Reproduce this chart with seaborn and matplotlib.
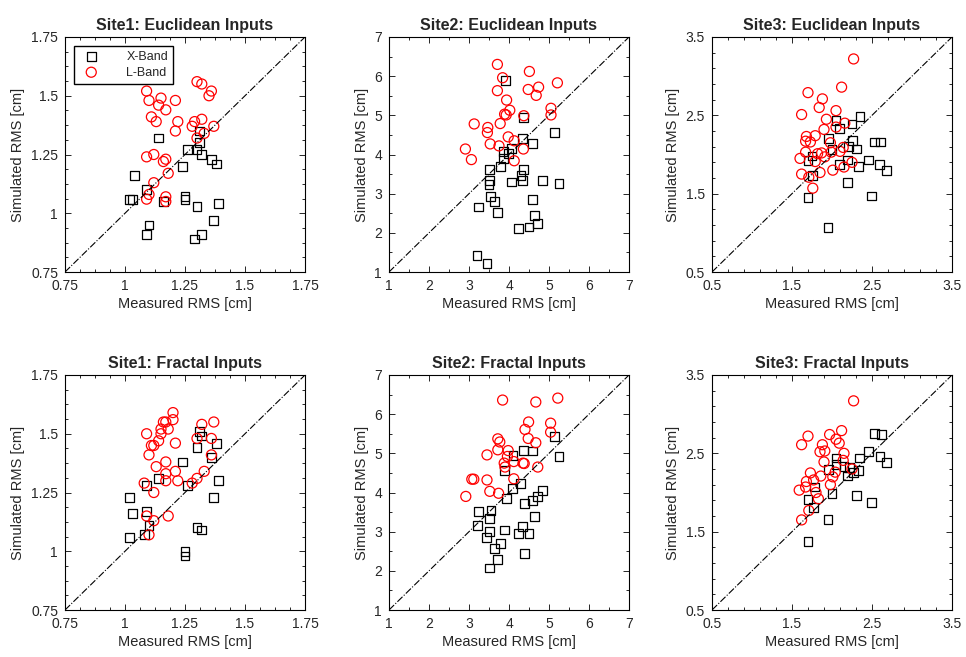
import matplotlib
matplotlib.use("Agg")
import matplotlib.pyplot as plt
from matplotlib.ticker import AutoMinorLocator, FormatStrFormatter
import seaborn as sns
import pandas as pd

# ---- data (measured, simulated) ----
titles = ["Site1: Euclidean Inputs", "Site2: Euclidean Inputs", "Site3: Euclidean Inputs",
          "Site1: Fractal Inputs", "Site2: Fractal Inputs", "Site3: Fractal Inputs"]
limits = [(0.75, 1.75), (1, 7), (0.5, 3.5)]
tick_vals = [[0.75, 1, 1.25, 1.5, 1.75], [1, 2, 3, 4, 5, 6, 7], [0.5, 1.5, 2.5, 3.5]]
minor_div = [4, 2, 5]

s1_euc_x = [(1.14,1.32),(1.31,1.35),(1.31,1.30),(1.26,1.27),(1.30,1.27),(1.32,1.25),(1.36,1.23),(1.38,1.21),
            (1.24,1.20),(1.04,1.16),(1.09,1.10),(1.02,1.06),(1.03,1.06),(1.16,1.05),(1.25,1.06),(1.25,1.07),
            (1.30,1.03),(1.39,1.04),(1.37,0.97),(1.10,0.95),(1.09,0.91),(1.29,0.89),(1.32,0.91)]
s1_euc_l = [(1.30,1.56),(1.32,1.55),(1.36,1.52),(1.35,1.50),(1.09,1.52),(1.10,1.48),(1.15,1.49),(1.14,1.46),
            (1.21,1.48),(1.17,1.44),(1.11,1.41),(1.13,1.39),(1.22,1.39),(1.29,1.39),(1.28,1.37),(1.32,1.40),
            (1.37,1.37),(1.21,1.35),(1.33,1.34),(1.30,1.32),(1.09,1.24),(1.12,1.25),(1.16,1.22),(1.17,1.23),
            (1.18,1.17),(1.12,1.13),(1.10,1.08),(1.09,1.06),(1.17,1.07),(1.17,1.05)]

s2_euc_x = [(3.92,5.88),(4.37,4.94),(5.14,4.56),(4.34,4.40),(4.58,4.28),(4.06,4.16),(3.87,4.07),(3.98,4.02),
            (3.86,3.89),(3.79,3.70),(3.52,3.62),(4.37,3.61),(4.30,3.46),(4.34,3.34),(3.52,3.33),(3.50,3.24),
            (4.07,3.30),(4.83,3.33),(5.25,3.25),(3.54,2.92),(3.64,2.79),(3.23,2.66),(3.71,2.52),(4.58,2.85),
            (4.63,2.44),(4.71,2.23),(4.50,2.15),(4.24,2.12),(3.20,1.42),(3.45,1.21)]
s2_euc_l = [(3.71,6.30),(4.51,6.12),(3.84,5.96),(4.74,5.72),(4.48,5.66),(5.21,5.83),(3.71,5.63),(4.68,5.51),
            (3.94,5.39),(4.02,5.13),(3.89,5.03),(3.93,5.01),(4.37,4.99),(5.05,5.18),(5.05,5.01),(3.13,4.78),
            (3.47,4.69),(3.78,4.79),(3.46,4.56),(3.98,4.45),(4.13,4.35),(3.53,4.27),(3.75,4.22),(4.36,4.14),
            (2.91,4.14),(3.06,3.87),(4.13,3.84)]

s3_euc_x = [(2.35,2.49),(2.25,2.39),(2.05,2.43),(2.09,2.33),(1.96,2.20),(2.26,2.18),(2.53,2.16),(2.61,2.16),
            (2.21,2.10),(2.31,2.07),(2.00,2.06),(1.70,1.92),(1.75,1.98),(2.19,1.93),(2.09,1.87),(2.33,1.85),
            (2.46,1.93),(2.59,1.87),(2.68,1.80),(1.76,1.73),(2.19,1.64),(1.70,1.45),(2.49,1.47),(1.95,1.07)]
s3_euc_l = [(2.27,3.22),(2.12,2.86),(1.70,2.79),(1.88,2.71),(1.84,2.60),(1.62,2.51),(2.05,2.56),(1.93,2.45),
            (2.05,2.35),(2.16,2.40),(1.90,2.32),(1.68,2.23),(1.79,2.24),(1.67,2.17),(1.73,2.16),(1.98,2.15),
            (2.14,2.09),(2.10,2.04),(1.67,2.03),(1.82,2.01),(1.87,2.02),(1.99,2.03),(1.91,1.97),(1.60,1.95),
            (1.79,1.91),(2.25,1.90),(2.01,1.80),(2.15,1.84),(1.85,1.77),(1.62,1.75),(1.71,1.71),(1.76,1.57)]

s1_frac_x = [(1.31,1.51),(1.32,1.49),(1.38,1.46),(1.30,1.44),(1.36,1.40),(1.24,1.38),(1.14,1.31),(1.39,1.30),
             (1.09,1.28),(1.26,1.28),(1.02,1.23),(1.37,1.23),(1.03,1.16),(1.09,1.17),(1.10,1.11),(1.08,1.07),
             (1.02,1.06),(1.30,1.10),(1.32,1.09),(1.25,1.00),(1.25,0.98)]
s1_frac_l = [(1.20,1.59),(1.20,1.56),(1.16,1.55),(1.17,1.55),(1.15,1.52),(1.18,1.52),(1.37,1.55),(1.32,1.54),
             (1.09,1.50),(1.15,1.50),(1.14,1.47),(1.11,1.45),(1.12,1.45),(1.21,1.46),(1.30,1.48),(1.36,1.48),
             (1.36,1.41),(1.10,1.41),(1.17,1.38),(1.13,1.36),(1.21,1.34),(1.17,1.33),(1.17,1.30),(1.22,1.30),
             (1.33,1.34),(1.30,1.31),(1.28,1.29),(1.08,1.29),(1.12,1.25),(1.09,1.15),(1.12,1.13),(1.18,1.15),
             (1.10,1.07)]

s2_frac_x = [(5.14,5.42),(5.25,4.91),(4.36,5.07),(4.59,5.06),(4.10,4.95),(3.88,4.57),(4.29,4.22),(4.08,4.11),
             (3.93,3.84),(4.83,4.06),(4.72,3.90),(4.59,3.79),(4.38,3.72),(3.24,3.51),(3.55,3.54),(3.52,3.33),
             (3.22,3.15),(4.64,3.39),(4.34,3.13),(3.52,3.01),(3.88,3.04),(3.44,2.85),(4.24,2.95),(4.50,2.95),
             (3.79,2.69),(3.63,2.58),(4.38,2.44),(3.72,2.28),(3.51,2.07)]
s2_frac_l = [(3.84,6.36),(4.67,6.31),(5.22,6.41),(4.49,5.80),(5.04,5.77),(4.40,5.61),(5.04,5.54),(4.48,5.38),
             (4.67,5.27),(3.72,5.37),(3.77,5.29),(3.72,5.09),(3.98,5.07),(3.45,4.96),(3.96,4.92),(4.12,4.79),
             (4.35,4.75),(4.38,4.74),(3.88,4.75),(3.90,4.65),(4.72,4.65),(3.07,4.34),(3.12,4.34),(3.45,4.32),
             (4.12,4.35),(3.52,4.03),(3.74,3.98),(2.92,3.90)]

s3_frac_x = [(2.53,2.75),(2.62,2.74),(2.46,2.52),(2.60,2.46),(2.68,2.38),(2.34,2.44),(2.05,2.44),(2.05,2.36),
             (2.15,2.33),(1.96,2.29),(2.22,2.32),(2.33,2.28),(2.27,2.26),(2.19,2.21),(1.78,2.07),(2.00,1.99),
             (2.31,1.96),(1.70,1.91),(1.77,1.81),(2.49,1.87),(1.95,1.66),(1.70,1.37)]
s3_frac_l = [(2.27,3.17),(2.12,2.79),(1.97,2.74),(1.70,2.72),(2.05,2.68),(2.09,2.63),(1.62,2.61),(1.88,2.61),
             (1.85,2.52),(1.91,2.53),(2.15,2.50),(2.14,2.41),(1.90,2.39),(2.25,2.30),(2.04,2.26),(1.73,2.25),
             (1.86,2.21),(2.01,2.20),(1.77,2.16),(1.68,2.14),(1.67,2.07),(1.98,2.10),(1.80,2.00),(1.59,2.03),
             (1.83,1.92),(1.71,1.77),(1.62,1.65)]

panels = [(s1_euc_x, s1_euc_l), (s2_euc_x, s2_euc_l), (s3_euc_x, s3_euc_l),
          (s1_frac_x, s1_frac_l), (s2_frac_x, s2_frac_l), (s3_frac_x, s3_frac_l)]

sns.set_style("ticks")
plt.rcParams["font.family"] = ["Liberation Sans", "DejaVu Sans"]

fig = plt.figure(figsize=(9.66, 6.57), dpi=100)
lefts = [65 / 966, 389 / 966, 712 / 966]
bottoms = [1 - 272 / 657, 1 - 610 / 657]
w, h = 240 / 966, 235 / 657

for i, (xb, lb) in enumerate(panels):
    col, row = i % 3, i // 3
    ax = fig.add_axes([lefts[col], bottoms[row], w, h])
    lo, hi = limits[col]
    dx = pd.DataFrame(xb, columns=["meas", "sim"])
    dl = pd.DataFrame(lb, columns=["meas", "sim"])
    ax.plot([lo, hi], [lo, hi], color="black", linestyle="-.", linewidth=0.8)
    sns.scatterplot(data=dx, x="meas", y="sim", marker="s", s=40, facecolor="none",
                    edgecolor="black", linewidth=0.9, ax=ax, label="X-Band", legend=False)
    sns.scatterplot(data=dl, x="meas", y="sim", marker="o", s=52, facecolor="none",
                    edgecolor="red", linewidth=0.9, ax=ax, label="L-Band", legend=False)
    ax.set_xlim(lo, hi)
    ax.set_ylim(lo, hi)
    ax.set_xticks(tick_vals[col])
    ax.set_yticks(tick_vals[col])
    for axis in (ax.xaxis, ax.yaxis):
        axis.set_minor_locator(AutoMinorLocator(minor_div[col]))
        axis.set_major_formatter(FormatStrFormatter("%g"))
    ax.tick_params(which="both", direction="in", top=True, right=True, labelsize=10, width=0.7)
    ax.tick_params(which="major", length=4, pad=5)
    ax.tick_params(which="minor", length=2)
    for sp in ax.spines.values():
        sp.set_linewidth(0.8)
        sp.set_color("black")
    ax.set_title(titles[i], fontsize=11.5, fontweight="bold", pad=5)
    ax.set_xlabel("Measured RMS [cm]", fontsize=10.5, labelpad=3)
    ax.set_ylabel("Simulated RMS [cm]", fontsize=10.5, labelpad=4)
    if i == 0:
        ax.legend(loc="upper left", fontsize=9, fancybox=False, edgecolor="black",
                  framealpha=1, borderaxespad=0.7, handletextpad=1.8, borderpad=0.4,
                  labelspacing=0.3)

fig.savefig("out.png", dpi=100)
